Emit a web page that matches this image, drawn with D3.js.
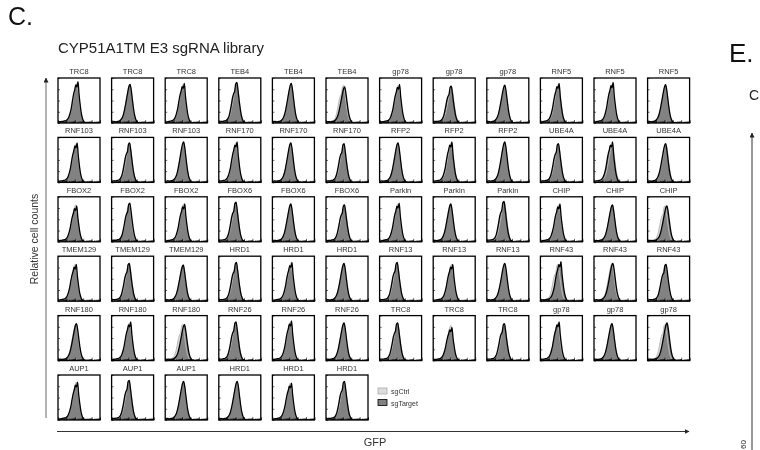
<!DOCTYPE html>
<html>
<head>
<meta charset="utf-8">
<script src="https://cdn.jsdelivr.net/npm/d3@7"></script>
<style>
  body { margin: 0; background: #fff; }
  svg { display: block; font-family: "Liberation Sans", Arial, Helvetica, sans-serif; filter: grayscale(100%); }
</style>
</head>
<body>
<svg id="fig" width="760" height="450"></svg>
<script>
// sgRNA target genes, one flow histogram per guide (three guides per gene)
const genes = [
  "TRC8","TRC8","TRC8","TEB4","TEB4","TEB4","gp78","gp78","gp78","RNF5","RNF5","RNF5",
  "RNF103","RNF103","RNF103","RNF170","RNF170","RNF170","RFP2","RFP2","RFP2","UBE4A","UBE4A","UBE4A",
  "FBOX2","FBOX2","FBOX2","FBOX6","FBOX6","FBOX6","Parkin","Parkin","Parkin","CHIP","CHIP","CHIP",
  "TMEM129","TMEM129","TMEM129","HRD1","HRD1","HRD1","RNF13","RNF13","RNF13","RNF43","RNF43","RNF43",
  "RNF180","RNF180","RNF180","RNF26","RNF26","RNF26","TRC8","TRC8","TRC8","gp78","gp78","gp78",
  "AUP1","AUP1","AUP1","HRD1","HRD1","HRD1"
];

// modal GFP intensity (log10 units) of each sgTarget population
const targetPeak = [
  2.00,1.95,1.90,1.90,2.00,1.97,2.00,1.90,1.90,1.85,1.90,1.90,
  1.90,1.90,1.95,1.80,1.95,1.90,1.95,1.85,1.90,1.90,1.83,1.90,
  1.85,1.92,1.95,1.80,1.95,1.95,1.95,1.85,1.80,1.95,1.95,2.05,
  1.80,1.85,1.90,1.85,1.95,1.90,1.85,1.95,1.90,2.07,2.00,1.95,
  1.95,1.90,2.05,1.80,1.90,1.90,1.90,1.85,1.85,1.85,1.90,2.07,
  1.95,1.85,1.95,1.95,1.90,1.95
];
// modal GFP intensity (log10 units) of the matching sgCtrl population
const ctrlPeak = [
  2.00,1.95,1.90,1.90,2.00,1.85,2.00,1.95,1.90,1.90,1.90,1.90,
  1.90,1.90,1.95,1.80,1.95,1.90,1.95,1.90,1.90,1.90,1.95,1.95,
  1.85,1.85,1.95,1.80,1.95,1.95,1.95,1.85,1.85,1.95,1.95,1.85,
  1.80,1.85,1.90,1.85,1.95,1.90,1.85,1.95,1.90,1.85,1.90,1.90,
  1.90,1.90,1.85,1.80,1.90,1.90,1.90,1.85,1.85,1.80,1.90,1.85,
  1.95,1.85,1.95,1.95,1.90,1.95
];
// peak height (fraction of the panel's count axis)
const targetHeight = [
  0.92,0.86,0.88,0.90,0.88,0.80,0.86,0.82,0.84,0.88,0.90,0.85,
  0.88,0.88,0.90,0.90,0.88,0.86,0.88,0.90,0.90,0.86,0.90,0.86,
  0.80,0.86,0.84,0.88,0.84,0.82,0.86,0.84,0.90,0.84,0.82,0.80,
  0.82,0.84,0.80,0.86,0.86,0.84,0.86,0.82,0.84,0.88,0.84,0.82,
  0.82,0.86,0.80,0.86,0.88,0.84,0.84,0.74,0.82,0.86,0.82,0.84,
  0.84,0.88,0.86,0.86,0.82,0.86
];
const ctrlHeight = [
  0.88,0.86,0.86,0.88,0.86,0.84,0.84,0.80,0.82,0.86,0.86,0.84,
  0.86,0.86,0.88,0.88,0.86,0.84,0.86,0.88,0.88,0.84,0.84,0.86,
  0.82,0.84,0.84,0.86,0.84,0.82,0.84,0.84,0.88,0.82,0.82,0.80,
  0.82,0.84,0.82,0.84,0.84,0.84,0.84,0.82,0.82,0.82,0.84,0.82,
  0.82,0.84,0.80,0.84,0.86,0.84,0.84,0.78,0.82,0.82,0.82,0.80,
  0.84,0.86,0.84,0.84,0.82,0.84
];
// which histogram profile each population follows
const targetShape = [
  1,0,1,2,0,0,1,2,0,1,1,0,
  1,2,0,1,0,2,0,1,0,2,1,0,
  1,2,1,2,0,2,1,0,2,1,0,0,
  1,2,0,2,1,0,2,1,0,1,0,2,
  0,1,0,2,1,0,2,1,2,1,0,0,
  1,2,0,0,1,2
];
const ctrlShape = [
  0,0,0,0,0,2,0,0,0,0,0,0,
  0,0,0,0,0,0,0,0,0,0,0,0,
  0,0,0,0,0,0,0,0,0,0,0,2,
  0,0,0,0,0,0,0,0,0,2,0,0,
  0,0,2,0,0,0,0,0,0,0,0,2,
  0,0,0,0,0,0
];

// histogram bins: log10 offset from the mode, and relative counts per profile
const binOffsets = [-2.6,-2.2,-1.95,-1.7,-1.5,-1.3,-1.17,-1.04,-0.91,-0.78,-0.65,-0.52,-0.39,-0.26,-0.13,0.0,0.13,0.26,0.39,0.52,0.65,0.78,0.91,1.04,1.17,1.3];
const shapes = [
  [0.01,0.03,0.04,0.03,0.04,0.05,0.07,0.10,0.15,0.23,0.35,0.50,0.66,0.82,0.95,1.00,0.86,0.63,0.40,0.22,0.11,0.05,0.02,0.01,0.00,0.00],
  [0.01,0.04,0.03,0.04,0.05,0.06,0.08,0.11,0.17,0.26,0.38,0.55,0.70,0.80,0.92,0.87,1.00,0.68,0.44,0.24,0.12,0.05,0.02,0.01,0.00,0.00],
  [0.01,0.03,0.04,0.04,0.05,0.06,0.08,0.12,0.19,0.31,0.46,0.62,0.72,0.78,0.97,1.00,0.82,0.58,0.37,0.20,0.10,0.04,0.02,0.01,0.00,0.00]
];

const legendItems = ["sgCtrl", "sgTarget"];

const svg = d3.select("#fig");

// layout
const nCols = 12;
const boxW = 42, boxH = 45;
const gridLeft = 58, gridTop = 78;
const colStep = 53.6, rowStep = 59.4;

// per-panel scales: GFP in log10 units across the panel width
const gfpMin = -0.25, gfpMax = 4.75;
const x = d3.scaleLinear().domain([gfpMin, gfpMax]).range([0, boxW]);
const xLog = d3.scaleLog().domain([1, 1e5]).range([0, boxW]);
const y = d3.scaleLinear().domain([0, 1]).range([boxH, 0]);

function histogram(peak, height, shapeIdx) {
  const prof = shapes[shapeIdx];
  const pts = binOffsets.map((o, i) => [peak + o, prof[i] * height]);
  return [[gfpMin, 0], ...pts.filter(p => p[0] > gfpMin && p[0] < gfpMax), [gfpMax, 0]];
}

const area = d3.area().x(d => x(d[0])).y0(boxH).y1(d => y(d[1])).curve(d3.curveMonotoneX);
const line = d3.line().x(d => x(d[0])).y(d => y(d[1])).curve(d3.curveMonotoneX);

const defs = svg.append("defs");
defs.append("clipPath").attr("id", "panelClip")
  .append("rect").attr("width", boxW).attr("height", boxH);

genes.forEach((g, i) => {
  const col = i % nCols, row = Math.floor(i / nCols);
  const p = svg.append("g")
    .attr("transform", `translate(${gridLeft + col * colStep},${gridTop + row * rowStep})`);

  p.append("text")
    .attr("x", boxW / 2).attr("y", -4)
    .attr("text-anchor", "middle")
    .attr("font-size", 7.5).attr("fill", "#333")
    .text(g);

  const ctrl = histogram(ctrlPeak[i], ctrlHeight[i], ctrlShape[i]);
  const targ = histogram(targetPeak[i], targetHeight[i], targetShape[i]);
  const hg = p.append("g").attr("clip-path", "url(#panelClip)");
  hg.append("path").attr("d", area(ctrl)).attr("fill", "#dcdcdc");
  hg.append("path").attr("d", area(targ)).attr("fill", "#828282");
  hg.append("path").attr("d", line(ctrl)).attr("fill", "none").attr("stroke", "#b8b8b8").attr("stroke-width", 1);
  hg.append("path").attr("d", line(targ)).attr("fill", "none").attr("stroke", "#000").attr("stroke-width", 1.3);

  // inward tick marks on the count and GFP axes
  const yAx = p.append("g").call(d3.axisLeft(y).tickValues([0, 0.25, 0.5, 0.75, 1]).tickSize(-2).tickFormat(""));
  const xMinor = p.append("g").attr("transform", `translate(0,${boxH})`)
    .call(d3.axisBottom(xLog).tickValues(xLog.ticks()).tickSize(-1.5).tickFormat(""));
  const xMajor = p.append("g").attr("transform", `translate(0,${boxH})`)
    .call(d3.axisBottom(xLog).tickValues([1, 10, 100, 1000, 10000, 100000]).tickSize(-3).tickFormat(""));
  [yAx, xMinor, xMajor].forEach(a => {
    a.select(".domain").remove();
    a.selectAll("line").attr("stroke", "#000").attr("stroke-width", 0.6);
  });

  p.append("rect").attr("width", boxW).attr("height", boxH)
    .attr("fill", "none").attr("stroke", "#000").attr("stroke-width", 1.3);
});

// legend
const lg = svg.append("g").attr("transform", "translate(378,388)");
const legendFill = ["#dcdcdc", "#828282"], legendStroke = ["#aaa", "#000"];
legendItems.forEach((name, k) => {
  const r = lg.append("g").attr("transform", `translate(0,${k * 11.5})`);
  r.append("rect").attr("width", 9).attr("height", 6).attr("fill", legendFill[k])
    .attr("stroke", legendStroke[k]).attr("stroke-width", 0.8);
  r.append("text").attr("x", 13).attr("y", 6).attr("font-size", 7).attr("fill", "#333").text(name);
});

// arrows
defs.append("marker").attr("id", "arrow").attr("viewBox", "0 0 10 10")
  .attr("refX", 9).attr("refY", 5).attr("markerWidth", 5).attr("markerHeight", 5)
  .attr("orient", "auto-start-reverse")
  .append("path").attr("d", "M0,0L10,5L0,10z").attr("fill", "#222");

svg.append("line").attr("x1", 46).attr("y1", 418).attr("x2", 46).attr("y2", 78)
  .attr("stroke", "#666").attr("stroke-width", 1).attr("marker-end", "url(#arrow)");
svg.append("line").attr("x1", 57).attr("y1", 431.5).attr("x2", 689).attr("y2", 431.5)
  .attr("stroke", "#333").attr("stroke-width", 1).attr("marker-end", "url(#arrow)");
svg.append("line").attr("x1", 752).attr("y1", 452).attr("x2", 752).attr("y2", 133)
  .attr("stroke", "#333").attr("stroke-width", 1).attr("marker-end", "url(#arrow)");

// titles and axis labels
svg.append("text").attr("x", 8).attr("y", 25).attr("font-size", 25).attr("fill", "#111").text("C.");
svg.append("text").attr("x", 58).attr("y", 53).attr("font-size", 15).attr("fill", "#222").text("CYP51A1TM E3 sgRNA library");
svg.append("text").attr("x", 729).attr("y", 62).attr("font-size", 26).attr("fill", "#111").text("E.");
svg.append("text").attr("x", 749).attr("y", 100).attr("font-size", 14).attr("fill", "#222").text("C");
svg.append("text").attr("transform", "translate(38,239) rotate(-90)").attr("text-anchor", "middle")
  .attr("font-size", 10.5).attr("fill", "#333").text("Relative cell counts");
svg.append("text").attr("x", 375).attr("y", 446).attr("text-anchor", "middle")
  .attr("font-size", 11).attr("fill", "#333").text("GFP");
svg.append("text").attr("transform", "translate(746,449) rotate(-90)").attr("text-anchor", "start")
  .attr("font-size", 8).attr("fill", "#222").text("60");
</script>
</body>
</html>
